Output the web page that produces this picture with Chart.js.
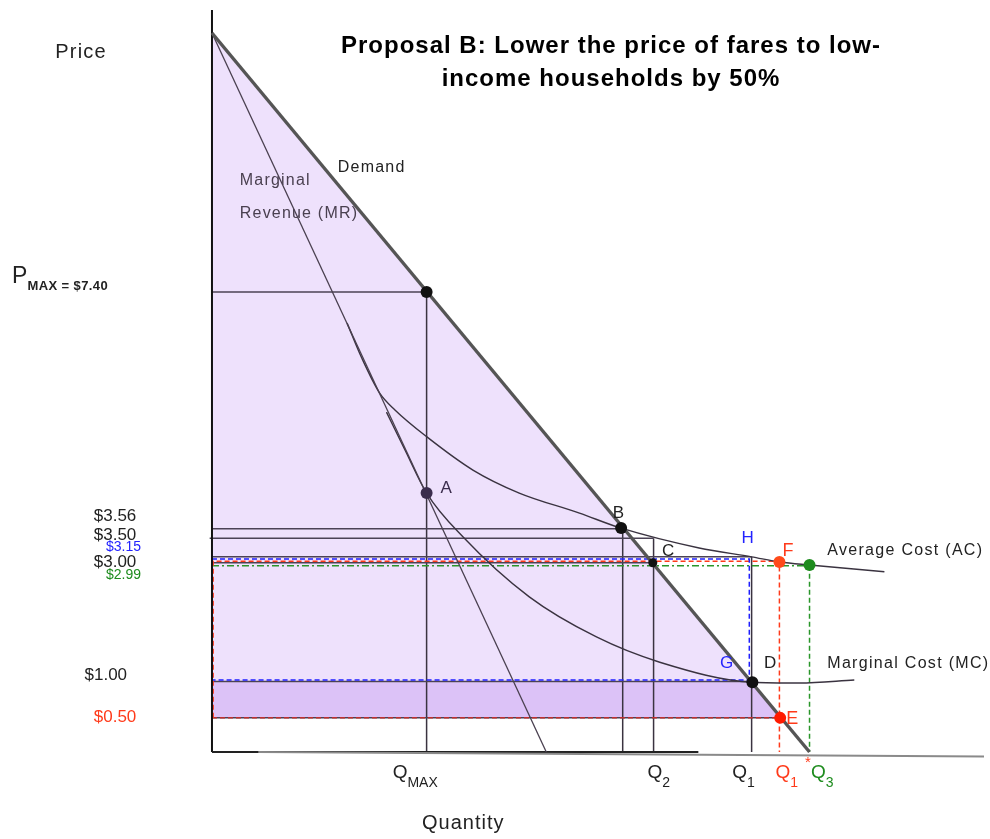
<!DOCTYPE html>
<html>
<head>
<meta charset="utf-8">
<script src="https://cdn.jsdelivr.net/npm/chart.js@4"></script>
<style>
  body { margin: 0; background: #fff; }
  #wrap { width: 990px; height: 839px; }
</style>
</head>
<body>
<div id="wrap"><canvas id="myChart"></canvas></div>
<script>
// diagram units: quantity 0..100 across, price 0..100 up (not to scale)
const demandQ = [0, 77.4];
const demandP = [96.9, 0];
const mrQ = [0, 43.3];
const mrP = [96.9, 0];
const acQ = [17.5, 19.4, 21.7, 23.7, 27.8, 33.8, 39.8, 47.6, 52.9, 63.1, 69.9, 73.6, 77.4, 87.1];
const acP = [57.8, 53.1, 48.4, 46.1, 42.5, 38.0, 34.9, 32.2, 30.2, 27.5, 26.3, 25.6, 25.2, 24.3];
const mcQ = [22.6, 25.0, 27.8, 32.5, 41.1, 49.8, 58.0, 70.0, 76.1, 83.2];
const mcP = [45.8, 40.7, 34.9, 29.0, 20.9, 15.5, 12.1, 9.4, 9.3, 9.7];

// marked points
const dotNames = ['Pmax', 'A', 'B', 'C', 'D', 'E', 'F', 'Q3'];
const dotQ = [27.8, 27.8, 53.0, 57.1, 70.0, 73.6, 73.5, 77.4];
const dotP = [62.0, 34.9, 30.2, 25.5, 9.4, 4.6, 25.6, 25.2];
const dotColors = ['#111', '#3b2d4d', '#111', '#111', '#111', '#ff1a00', '#ff4a1a', '#1e8c1e'];
const dotSizes = [6, 6, 6, 4.5, 6, 6, 6, 6];

// solid guide lines
const hLevel = [62.0, 30.1, 28.8, 26.3, 25.5, 9.5, 4.6];
const hFrom = [0, 0, -0.3, 0, 0, 0, 0];
const hTo = [27.8, 52.9, 57.2, 69.9, 57.1, 70.0, 73.6];
const vAt = [27.8, 53.2, 57.2, 69.9];
const vTop = [62.0, 30.1, 28.8, 26.3];

// dashed boxes
const blueQ = [0, 69.6, 69.6, 0, 0];
const blueP = [26.0, 26.0, 9.7, 9.7, 26.0];
const redQ = [0.15, 0.15, 73.5, 73.5];
const redP = [4.6, 25.7, 25.7, 0];
const redLowQ = [0, 73.6];
const redLowP = [4.6, 4.6];
const greenQ = [0, 77.4];
const greenP = [25.1, 25.1];
const greenDropQ = [77.4, 77.4];
const greenDropP = [25.1, 0];

// shaded areas
const bandQ = [0, 70.0, 73.6];
const bandP = [9.4, 9.4, 4.6];
const shadeFloor = 4.6;

// price tick labels
const priceTicks = ['$3.56', '$3.50', '$3.15', '$3.00', '$2.99', '$1.00', '$0.50'];
const priceTickAt = [31.8, 29.2, 27.6, 25.6, 23.9, 10.4, 4.7];
const priceTickRight = [-9.8, -9.8, -9.2, -9.8, -9.2, -11.0, -9.8];
const priceTickColors = ['#222', '#222', '#2323ff', '#222', '#1e8c1e', '#222', '#ff3a1a'];
const priceTickSizes = [17, 17, 14, 17, 14, 17, 17];

// quantity labels
const qNames = ['Q', 'Q', 'Q', 'Q', 'Q'];
const qSubs = ['MAX', '2', '1', '1', '3'];
const qAt = [23.4, 56.4, 67.4, 73.0, 77.6];
const qColors = ['#222', '#222', '#222', '#ff3a1a', '#1e8c1e'];

const FONT = '"Liberation Sans", Arial, sans-serif';

const notes = [
    { t: 'Price', q: -20.3, p: 94.3, size: 20, sp: 1.2, color: '#222' },
    { t: 'Quantity', q: 27.2, p: -9.6, size: 20, sp: 1, color: '#222' },
    { t: 'Demand', q: 16.3, p: 78.7, size: 16, sp: 1.2, color: '#222' },
    { t: 'Marginal', q: 3.6, p: 77.0, size: 16, sp: 1.2, color: '#4a4050' },
    { t: 'Revenue (MR)', q: 3.6, p: 72.5, size: 16, sp: 1.2, color: '#4a4050' },
    { t: 'A', q: 29.6, p: 35.6, size: 17, sp: 0, color: '#3b2d4d' },
    { t: 'B', q: 51.9, p: 32.2, size: 17, sp: 0, color: '#222' },
    { t: 'C', q: 58.3, p: 27.1, size: 17, sp: 0, color: '#222' },
    { t: 'D', q: 71.5, p: 11.9, size: 17, sp: 0, color: '#222' },
    { t: 'E', q: 74.4, p: 4.4, size: 18, sp: 0, color: '#ff3a1a' },
    { t: 'F', q: 73.9, p: 27.1, size: 18, sp: 0, color: '#ff3a1a' },
    { t: 'G', q: 65.8, p: 12.0, size: 17, sp: 0, color: '#2323ff' },
    { t: 'H', q: 68.6, p: 28.8, size: 17, sp: 0, color: '#2323ff' },
    { t: 'Average Cost (AC)', q: 79.7, p: 27.1, size: 16, sp: 1.3, color: '#222' },
    { t: 'Marginal Cost (MC)', q: 79.7, p: 11.9, size: 16, sp: 1.3, color: '#222' },
    { t: 'P', q: -25.9, p: 64.0, size: 23, sp: 0, color: '#222' },
    { t: 'MAX = $7.40', q: -23.9, p: 62.8, size: 13, sp: 0.4, color: '#222', bold: true },
    { t: '*', q: 76.8, p: -1.4, size: 15, sp: 0, color: '#ff3a1a' }
];

const pts = (qs, ps) => qs.map((q, i) => ({ x: q, y: ps[i] }));

const seg = (data, color, width, dash, order) => ({
    data,
    showLine: true,
    borderColor: color,
    borderWidth: width,
    borderDash: dash || [],
    pointRadius: 0,
    fill: false,
    clip: false,
    order
});

const datasets = [];

// light fill under demand, down to the $0.50 line
datasets.push({
    data: pts([0, demandQ[0] + (demandP[0] - shadeFloor) / demandP[0] * (demandQ[1] - demandQ[0])], [demandP[0], shadeFloor]),
    showLine: true, borderWidth: 0, pointRadius: 0, clip: false,
    backgroundColor: '#eee1fc', fill: { value: shadeFloor }, order: 20
});
datasets.push({
    data: pts(bandQ, bandP),
    showLine: true, borderWidth: 0, pointRadius: 0, clip: false,
    backgroundColor: '#dcc2f7', fill: { value: shadeFloor }, order: 19
});

hLevel.forEach((lv, i) => {
    datasets.push(seg(pts([hFrom[i], hTo[i]], [lv, lv]), '#4b4255', 1.5, null, 10));
});
vAt.forEach((q, i) => {
    datasets.push(seg(pts([q, q], [0, vTop[i]]), '#3a3340', 1.5, null, 10));
});

datasets.push(seg(pts(blueQ, blueP), '#1f1fff', 1.5, [5, 3], 6));
datasets.push(seg(pts(redQ, redP), '#ff3a1a', 1.5, [5, 3], 6));
datasets.push(seg(pts(redLowQ, redLowP), '#c03030', 1.5, [5, 3], 6));
datasets.push(seg(pts(greenQ, greenP), '#2a962a', 1.3, [7, 3, 2, 3], 6));
datasets.push(seg(pts(greenDropQ, greenDropP), '#2a962a', 1.5, [5, 3], 6));

// axes
datasets.push(seg(pts([6, 100], [0, -0.6]), '#8a8a8a', 2, null, 4));
datasets.push(seg(pts([0, 63], [0, 0]), '#222', 2, null, 4));
datasets.push(seg(pts([0, 0], [0, 100]), '#111', 2, null, 4));

// curves
datasets.push(seg(pts(mrQ, mrP), '#4a4050', 1.3, null, 3));
datasets.push(Object.assign(seg(pts(acQ, acP), '#3a3340', 1.4, null, 3), { tension: 0.4, cubicInterpolationMode: 'monotone' }));
datasets.push(Object.assign(seg(pts(mcQ, mcP), '#3a3340', 1.4, null, 3), { tension: 0.4, cubicInterpolationMode: 'monotone' }));
datasets.push(seg(pts(demandQ, demandP), '#555', 3.4, null, 2));

// dots
datasets.push({
    data: pts(dotQ, dotP),
    showLine: false,
    pointRadius: dotSizes,
    pointBackgroundColor: dotColors,
    pointBorderWidth: 0,
    clip: false,
    order: 0
});

const textPlugin = {
    id: 'diagramText',
    afterDatasetsDraw(chart) {
        const { ctx, scales: { x, y } } = chart;
        ctx.save();
        ctx.textBaseline = 'middle';

        ctx.fillStyle = '#000';
        ctx.textAlign = 'center';
        ctx.font = 'bold 24px ' + FONT;
        ctx.letterSpacing = '1px';
        ctx.fillText('Proposal B: Lower the price of fares to low-', 611, 46);
        ctx.fillText('income households by 50%', 611, 79);

        ctx.textAlign = 'left';
        notes.forEach(n => {
            ctx.font = (n.bold ? 'bold ' : '') + n.size + 'px ' + FONT;
            ctx.letterSpacing = n.sp + 'px';
            ctx.fillStyle = n.color;
            ctx.fillText(n.t, x.getPixelForValue(n.q), y.getPixelForValue(n.p));
        });

        ctx.letterSpacing = '0px';
        ctx.textAlign = 'right';
        priceTicks.forEach((t, i) => {
            ctx.font = priceTickSizes[i] + 'px ' + FONT;
            ctx.fillStyle = priceTickColors[i];
            ctx.fillText(t, x.getPixelForValue(priceTickRight[i]), y.getPixelForValue(priceTickAt[i]));
        });

        ctx.textAlign = 'left';
        qNames.forEach((t, i) => {
            const left = x.getPixelForValue(qAt[i]);
            ctx.fillStyle = qColors[i];
            ctx.font = '19px ' + FONT;
            ctx.fillText(t, left, y.getPixelForValue(-2.8));
            const w = ctx.measureText(t).width;
            ctx.font = '14px ' + FONT;
            ctx.fillText(qSubs[i], left + w, y.getPixelForValue(-4.2));
        });
        ctx.restore();
    }
};

const conf = {
    type: 'scatter',
    data: { datasets },
    options: {
        responsive: true,
        maintainAspectRatio: false,
        animation: false,
        events: [],
        layout: {
            padding: { left: 196.54, right: 5, top: 10, bottom: 72.16 }
        },
        plugins: {
            legend: { display: false },
            tooltip: { enabled: false },
            title: { display: false }
        },
        scales: {
            x: { type: 'linear', min: -2, max: 100, display: false },
            y: { type: 'linear', min: -2, max: 100, display: false }
        }
    },
    plugins: [textPlugin]
};

const myChart = new Chart(document.getElementById('myChart'), conf);
</script>
</body>
</html>
